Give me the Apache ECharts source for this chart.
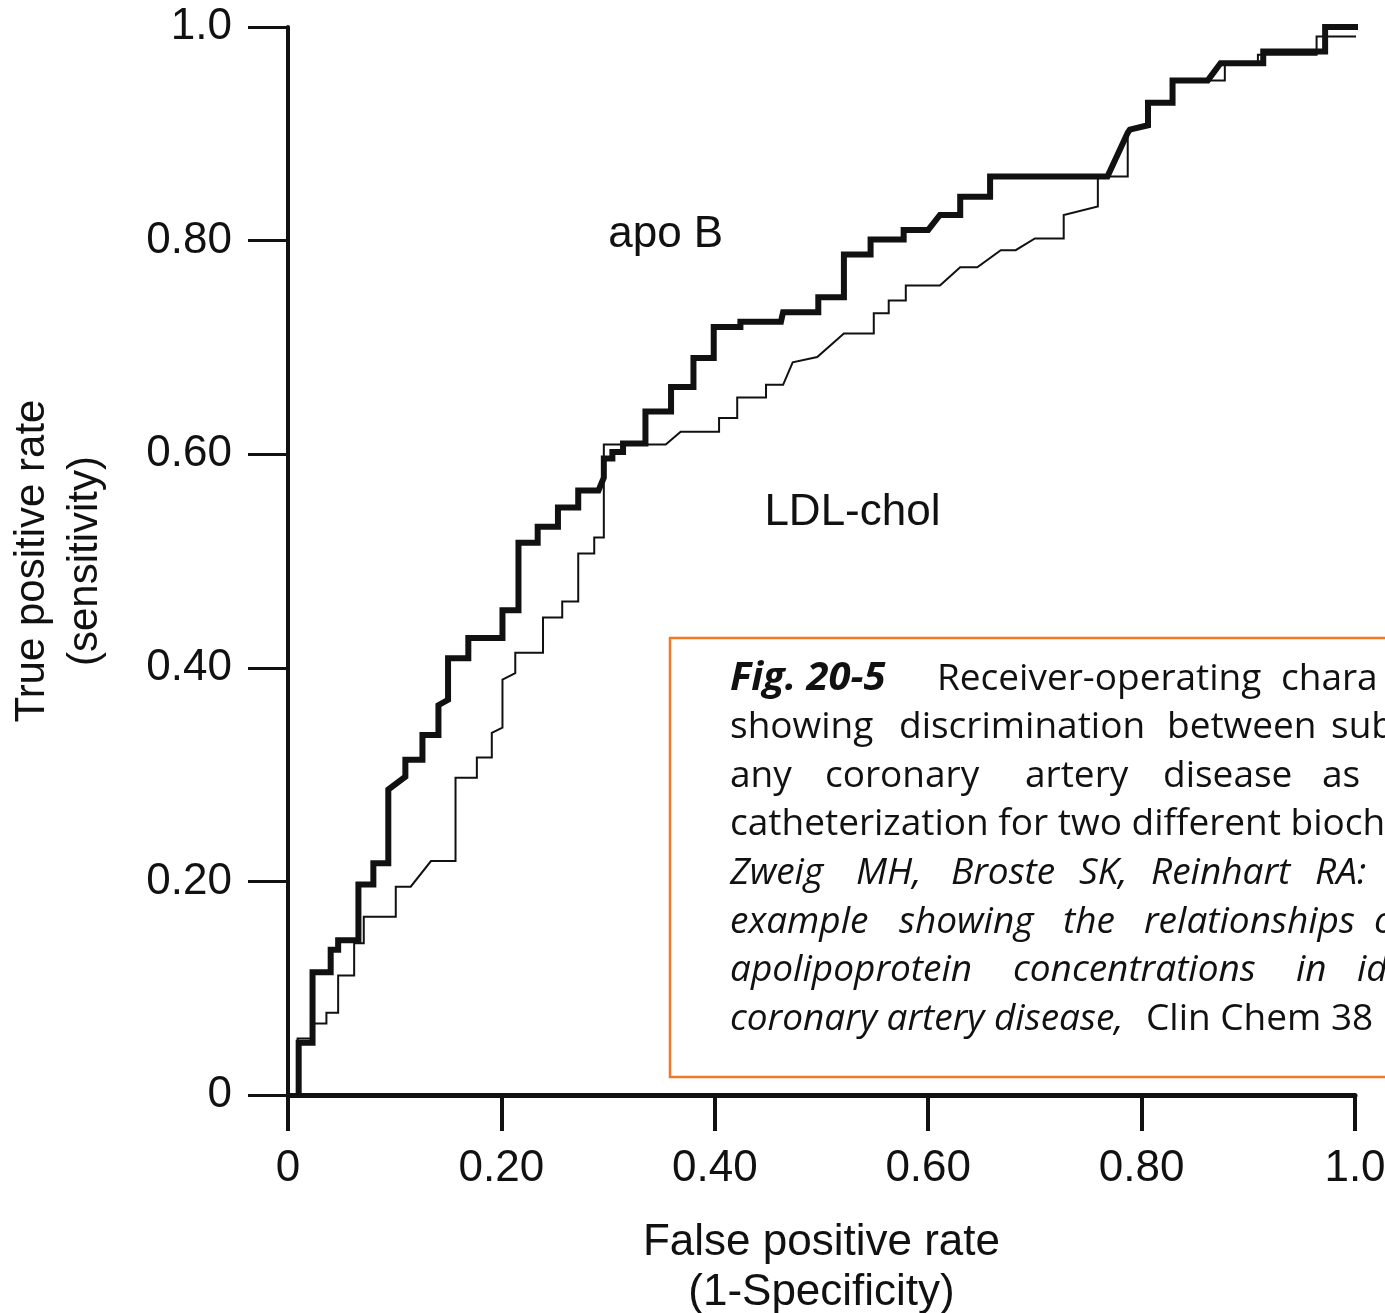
<!DOCTYPE html>
<html>
<head>
<meta charset="utf-8">
<script src="https://cdn.jsdelivr.net/npm/echarts@6/dist/echarts.min.js"></script>
<style>
  html, body { margin: 0; padding: 0; background: #fff; }
  #roc { width: 1385px; height: 1313px; }
</style>
</head>
<body>
<div id="roc"></div>
<script>
// ROC curves (step curves, x = false positive rate, y = true positive rate)
var apoBX = [0.010,0.010,0.023,0.023,0.040,0.040,0.047,0.047,0.066,0.066,0.080,0.080,0.094,0.094,0.110,0.110,0.126,0.126,0.141,0.141,0.150,0.150,0.169,0.169,0.201,0.201,0.216,0.216,0.234,0.234,0.253,0.253,0.272,0.272,0.291,0.296,0.296,0.304,0.304,0.314,0.314,0.335,0.335,0.359,0.359,0.380,0.380,0.399,0.399,0.424,0.424,0.462,0.464,0.497,0.497,0.521,0.521,0.546,0.546,0.577,0.577,0.600,0.611,0.630,0.630,0.658,0.658,0.768,0.787,0.789,0.806,0.806,0.829,0.829,0.862,0.874,0.914,0.914,0.972,0.972,1.009]
var apoBY = [0,0.049,0.049,0.115,0.115,0.136,0.136,0.145,0.145,0.197,0.197,0.217,0.217,0.286,0.298,0.314,0.314,0.337,0.337,0.365,0.370,0.409,0.409,0.428,0.428,0.454,0.454,0.517,0.517,0.532,0.532,0.550,0.550,0.566,0.566,0.578,0.596,0.596,0.602,0.602,0.610,0.610,0.640,0.640,0.663,0.663,0.690,0.690,0.719,0.719,0.724,0.724,0.733,0.733,0.747,0.747,0.787,0.787,0.801,0.801,0.810,0.810,0.824,0.824,0.841,0.841,0.860,0.860,0.901,0.904,0.908,0.929,0.929,0.950,0.950,0.966,0.966,0.977,0.977,1.0,1.0]

var ldlX = [0.009,0.009,0.023,0.023,0.036,0.036,0.047,0.047,0.062,0.062,0.071,0.071,0.101,0.101,0.115,0.134,0.157,0.157,0.177,0.177,0.191,0.191,0.201,0.201,0.213,0.213,0.239,0.239,0.257,0.257,0.272,0.272,0.287,0.287,0.296,0.296,0.354,0.368,0.404,0.404,0.421,0.421,0.448,0.448,0.464,0.473,0.496,0.521,0.549,0.549,0.563,0.563,0.579,0.579,0.611,0.630,0.646,0.668,0.682,0.700,0.727,0.727,0.759,0.759,0.787,0.787,0.789,0.806,0.806,0.829,0.829,0.878,0.878,0.909,0.909,0.964,0.964,1.005]
var ldlY = [0,0.053,0.053,0.067,0.067,0.077,0.077,0.112,0.112,0.142,0.142,0.167,0.167,0.195,0.195,0.219,0.219,0.297,0.297,0.316,0.316,0.339,0.344,0.389,0.395,0.414,0.414,0.447,0.447,0.462,0.462,0.507,0.507,0.522,0.522,0.609,0.609,0.621,0.621,0.634,0.634,0.653,0.653,0.665,0.665,0.686,0.691,0.713,0.713,0.732,0.732,0.744,0.744,0.758,0.758,0.775,0.775,0.791,0.791,0.802,0.802,0.824,0.832,0.860,0.860,0.901,0.904,0.908,0.929,0.929,0.950,0.950,0.966,0.966,0.974,0.974,0.991,0.991]

var xTickLabels = ['0', '0.20', '0.40', '0.60', '0.80', '1.0']
var yTickLabels = ['0', '0.20', '0.40', '0.60', '0.80', '1.0']

// caption box text, each line as [word, left x, style]; the box runs off the right edge like the scan
var captionLines = [
  [['Fig. 20-5', 730, 'bi'], ['Receiver-operating', 937], ['chara', 1281]],
  [['showing', 730], ['discrimination', 899], ['between', 1167], ['sub', 1331]],
  [['any', 730], ['coronary', 825], ['artery', 1025], ['disease', 1163], ['as', 1322]],
  [['catheterization for two different bioch', 730]],
  [['Zweig', 730, 'i'], ['MH,', 856, 'i'], ['Broste', 951, 'i'], ['SK,', 1079, 'i'], ['Reinhart', 1151, 'i'], ['RA:', 1315, 'i']],
  [['example', 730, 'i'], ['showing', 899, 'i'], ['the', 1063, 'i'], ['relationships', 1144, 'i'], ['o', 1374, 'i']],
  [['apolipoprotein', 730, 'i'], ['concentrations', 1013, 'i'], ['in', 1296, 'i'], ['id', 1357, 'i']],
  [['coronary artery disease,', 730, 'i'], ['Clin Chem 38', 1146]]
]

function zip(xs, ys) {
  var out = []
  for (var i = 0; i < xs.length; i++) out.push([xs[i], ys[i]])
  return out
}

var axisFont = 'Liberation Sans, Arial, Helvetica, sans-serif'

var captionEls = [{
  type: 'rect',
  shape: { x: 670, y: 638, width: 800, height: 439 },
  style: { fill: 'none', stroke: '#F07828', lineWidth: 2.5 },
  silent: true
}]
for (var li = 0; li < captionLines.length; li++) {
  var words = captionLines[li]
  for (var wi = 0; wi < words.length; wi++) {
    var w = words[wi]
    var st = w[2] || ''
    var bold = st.indexOf('b') >= 0
    captionEls.push({
      type: 'text',
      x: w[1],
      y: 679 + li * 48.6,
      silent: true,
      style: {
        text: w[0],
        fill: '#111',
        font: (st.indexOf('i') >= 0 ? 'italic ' : '') + (bold ? 'bold 40px ' : '37px ') + '"Open Sans", "Noto Sans", sans-serif',
        verticalAlign: 'middle',
        align: 'left'
      }
    })
  }
}

var chart = echarts.init(document.getElementById('roc'))
chart.setOption({
  animation: false,
  backgroundColor: '#fff',
  grid: { left: 288, right: 30, top: 27, bottom: 218, containLabel: false, outerBoundsMode: 'none' },
  xAxis: {
    type: 'value',
    min: 0, max: 1, interval: 0.2,
    name: 'False positive rate\n(1-Specificity)',
    nameLocation: 'middle',
    nameGap: 123,
    nameTextStyle: { fontSize: 44, lineHeight: 50, color: '#111', fontFamily: axisFont },
    axisLine: { show: true, onZero: false, lineStyle: { color: '#111', width: 5 } },
    axisTick: { show: true, inside: false, length: 36, lineStyle: { color: '#111', width: 4 } },
    axisLabel: {
      margin: 52, fontSize: 44, color: '#111', fontFamily: axisFont,
      formatter: function (v) { return xTickLabels[Math.round(v / 0.2)] }
    },
    splitLine: { show: false }
  },
  yAxis: {
    type: 'value',
    min: 0, max: 1, interval: 0.2,
    name: 'True positive rate\n(sensitivity)',
    nameLocation: 'middle',
    nameRotate: 90,
    nameGap: 176,
    nameTextStyle: { fontSize: 42, lineHeight: 53, color: '#111', fontFamily: axisFont },
    axisLine: { show: true, onZero: false, lineStyle: { color: '#111', width: 4 } },
    axisTick: { show: true, inside: false, length: 40, lineStyle: { color: '#111', width: 3 } },
    axisLabel: {
      margin: 56, fontSize: 44, color: '#111', fontFamily: axisFont,
      formatter: function (v) { return yTickLabels[Math.round(v / 0.2)] }
    },
    splitLine: { show: false }
  },
  series: [
    {
      name: 'apo B',
      type: 'line',
      data: zip(apoBX, apoBY),
      showSymbol: false,
      clip: false,
      lineStyle: { color: '#111', width: 6, join: 'miter' },
      markPoint: {
        symbol: 'rect', symbolSize: 1,
        itemStyle: { color: 'rgba(0,0,0,0)' },
        label: { show: true, position: 'inside', fontSize: 44, color: '#111', fontFamily: axisFont, formatter: '{b}' },
        data: [{ name: 'apo B', coord: [0.354, 0.805] }]
      }
    },
    {
      name: 'LDL-chol',
      type: 'line',
      data: zip(ldlX, ldlY),
      showSymbol: false,
      clip: false,
      lineStyle: { color: '#111', width: 2, join: 'miter' },
      markPoint: {
        symbol: 'rect', symbolSize: 1,
        itemStyle: { color: 'rgba(0,0,0,0)' },
        label: { show: true, position: 'inside', fontSize: 44, color: '#111', fontFamily: axisFont, formatter: '{b}' },
        data: [{ name: 'LDL-chol', coord: [0.529, 0.545] }]
      }
    }
  ],
  graphic: captionEls
})
</script>
</body>
</html>
